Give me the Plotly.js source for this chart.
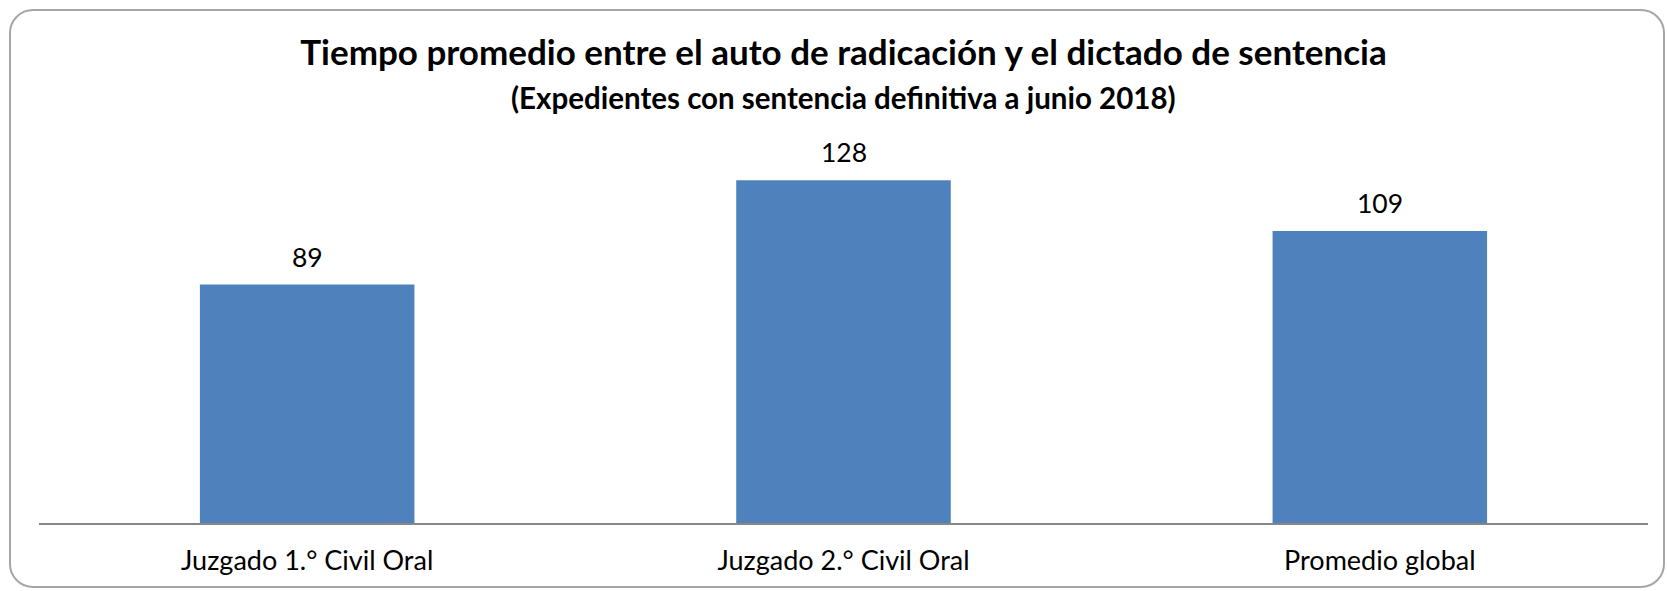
<!DOCTYPE html>
<html>
<head>
<meta charset="utf-8">
<script src="https://cdn.plot.ly/plotly-3.0.1.min.js"></script>
<style>
  html, body { margin: 0; padding: 0; background: #ffffff; }
  #wrap { position: relative; width: 1667px; height: 591px; }
  #chart { position: absolute; left: 0; top: 0; width: 1667px; height: 591px; }
  #frame { position: absolute; left: 9px; top: 9px; width: 1652px; height: 575px;
           border: 2px solid #a6a6a6; border-radius: 24px; pointer-events: none; }
</style>
</head>
<body>
<div id="wrap">
  <div id="chart"></div>
  <div id="frame"></div>
</div>
<script>
const categories = ["Juzgado 1.° Civil Oral", "Juzgado 2.° Civil Oral", "Promedio global"];
const values = [89, 128, 109];
const titleText = "Tiempo promedio entre el auto de radicación y el dictado de sentencia";
const subtitleText = "(Expedientes con sentencia definitiva a junio 2018)";

const FONT = "Lato, 'Open Sans', sans-serif";

const trace = {
  type: "bar",
  x: categories,
  y: values,
  marker: { color: "#4F81BD" },
  cliponaxis: false,
  hoverinfo: "x+y"
};

const valueLabels = categories.map((c, i) => ({
  x: c, y: values[i],
  xref: "x", yref: "y",
  text: String(values[i]),
  showarrow: false,
  xanchor: "center", yanchor: "middle",
  yshift: 28,
  font: { family: FONT, size: 26.5, color: "#000000" }
}));

const layout = {
  width: 1667,
  height: 591,
  margin: { l: 39, r: 19, t: 148, b: 68 },
  paper_bgcolor: "rgba(0,0,0,0)",
  plot_bgcolor: "rgba(0,0,0,0)",
  bargap: 0.6,
  showlegend: false,
  title: {
    text: "<b>" + titleText + "</b>",
    font: { family: FONT, size: 35, color: "#000000" },
    xref: "paper", x: 0.5, xanchor: "center",
    y: 1 - 53 / 591, yanchor: "middle", yref: "container"
  },
  annotations: [{
    text: "<b>" + subtitleText + "</b>",
    xref: "paper", yref: "paper",
    x: 0.5, y: (523 - 97) / 375,
    xanchor: "center", yanchor: "middle",
    showarrow: false,
    font: { family: FONT, size: 29.5, color: "#000000" }
  }].concat(valueLabels),
  xaxis: {
    type: "category",
    showline: true,
    linecolor: "#868686",
    linewidth: 1.5,
    ticks: "",
    showgrid: false,
    zeroline: false,
    tickfont: { family: FONT, size: 27, color: "#000000" },
    ticklabelstandoff: 13
  },
  yaxis: {
    range: [0, 140],
    visible: false,
    showgrid: false,
    zeroline: false
  }
};

Plotly.newPlot("chart", [trace], layout, { displayModeBar: false, staticPlot: true });
</script>
</body>
</html>
